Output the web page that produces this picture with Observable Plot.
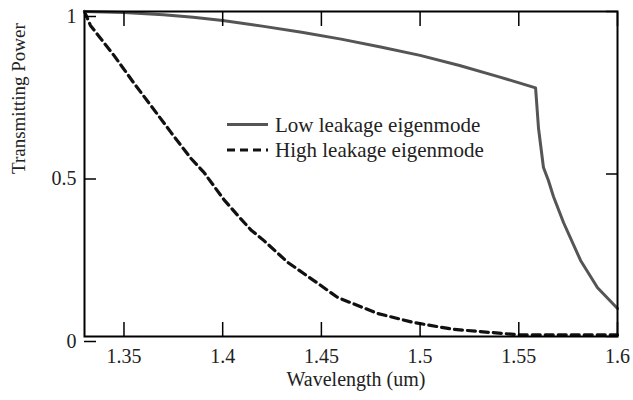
<!DOCTYPE html>
<html>
<head>
<meta charset="utf-8">
<script src="https://cdn.jsdelivr.net/npm/d3@7"></script>
<script src="https://cdn.jsdelivr.net/npm/@observablehq/plot@0.6"></script>
<style>
  html, body { margin: 0; padding: 0; background: #fff; }
  #wrap { position: relative; width: 633px; height: 400px; font-family: "Liberation Serif", "Times New Roman", serif; }
  #wrap svg text { font-family: "Liberation Serif", "Times New Roman", serif; }
  #legend { position: absolute; left: 0; top: 0; pointer-events: none; }
</style>
</head>
<body>
<div id="wrap"></div>
<script>
// Low leakage eigenmode (solid)
const lowWl = [1.33, 1.35, 1.37, 1.385, 1.40, 1.42, 1.44, 1.46, 1.48, 1.50, 1.52, 1.54, 1.5585, 1.5600, 1.5625, 1.565, 1.5676, 1.5727, 1.5813, 1.5899, 1.60];
const lowP  = [1.000, 0.997, 0.990, 0.982, 0.972, 0.955, 0.936, 0.915, 0.891, 0.865, 0.834, 0.799, 0.765, 0.640, 0.520, 0.480, 0.430, 0.350, 0.234, 0.150, 0.086];
// High leakage eigenmode (dashed)
const highWl = [1.33, 1.333, 1.3449, 1.355, 1.3637, 1.3738, 1.3839, 1.3905, 1.4005, 1.4077, 1.4143, 1.4209, 1.433, 1.4462, 1.4583, 1.4784, 1.4967, 1.517, 1.5423, 1.551, 1.60];
const highP  = [1.000, 0.957, 0.865, 0.780, 0.710, 0.628, 0.548, 0.505, 0.422, 0.372, 0.328, 0.295, 0.228, 0.172, 0.120, 0.071, 0.043, 0.022, 0.009, 0.005, 0.005];

const xTicks = [1.35, 1.4, 1.45, 1.5, 1.55, 1.6];
const xTickLabels = ["1.35", "1.4", "1.45", "1.5", "1.55", "1.6"];
const yTicks = [0, 0.5, 1];
const yTickLabels = ["0", "0.5", "1"];

const seriesNames = ["Low leakage eigenmode", "High leakage eigenmode"];
const seriesColors = ["#555555", "#111111"];
const seriesDash = [null, "8,5"];

const xTitle = "Wavelength (um)";
const yTitle = "Transmitting Power";

const low = lowWl.map((w, i) => ({w, p: lowP[i]}));
const high = highWl.map((w, i) => ({w, p: highP[i]}));

const serif = "Liberation Serif";

const chart = Plot.plot({
  width: 633,
  height: 400,
  marginLeft: 84,
  marginRight: 16,
  marginTop: 11,
  marginBottom: 64,
  style: { fontFamily: serif, background: "#fff", color: "#000", overflow: "visible" },
  x: { domain: [1.33, 1.6] },
  y: { domain: [0, 1] },
  marks: [
    Plot.line(high, { x: "w", y: "p", stroke: seriesColors[1], strokeWidth: 3.2, strokeDasharray: seriesDash[1] }),
    Plot.line(low, { x: "w", y: "p", stroke: seriesColors[0], strokeWidth: 3 }),
    Plot.frame({ stroke: "#000", strokeWidth: 2 }),
    Plot.axisX({ anchor: "bottom", ticks: xTicks, tickSize: -14, tickPadding: 26, strokeWidth: 1.5,
      tickFormat: d => xTickLabels[xTicks.indexOf(d)], label: null, fontSize: 20, fontFamily: serif, fill: "#222" }),
    Plot.axisX({ anchor: "top", ticks: xTicks, tickSize: -14, strokeWidth: 1.5, tickFormat: () => "", label: null }),
    Plot.axisY({ anchor: "left", ticks: yTicks, tickSize: -12, tickPadding: 20, strokeWidth: 1.5, dy: 5,
      tickFormat: d => yTickLabels[yTicks.indexOf(d)], label: null, fontSize: 20, fontFamily: serif, fill: "#222" }),
    Plot.axisY({ anchor: "right", ticks: yTicks, tickSize: -12, strokeWidth: 1.5, tickFormat: () => "", label: null }),
    Plot.text([xTitle], { frameAnchor: "bottom", dy: 49, dx: 5, fontSize: 20, fontFamily: serif, fill: "#222" }),
    Plot.text([yTitle], { frameAnchor: "left", dx: -66, rotate: -90, fontSize: 19, fontFamily: serif, fill: "#222" })
  ]
});

const wrap = document.getElementById("wrap");
wrap.appendChild(chart);

// Legend overlay
const ns = "http://www.w3.org/2000/svg";
const leg = document.createElementNS(ns, "svg");
leg.setAttribute("id", "legend");
leg.setAttribute("width", 633);
leg.setAttribute("height", 400);
const legX0 = 227, legX1 = 268, legTextX = 275;
const legRowY = [124.5, 150];
seriesNames.forEach((name, i) => {
  const ln = document.createElementNS(ns, "line");
  ln.setAttribute("x1", legX0); ln.setAttribute("x2", legX1);
  ln.setAttribute("y1", legRowY[i]); ln.setAttribute("y2", legRowY[i]);
  ln.setAttribute("stroke", seriesColors[i]);
  ln.setAttribute("stroke-width", i === 0 ? 3 : 3.2);
  if (seriesDash[i]) ln.setAttribute("stroke-dasharray", seriesDash[i]);
  leg.appendChild(ln);
  const t = document.createElementNS(ns, "text");
  t.setAttribute("x", legTextX);
  t.setAttribute("y", legRowY[i] + 7);
  t.setAttribute("font-size", 21);
  t.setAttribute("fill", "#222");
  t.textContent = name;
  leg.appendChild(t);
});
wrap.appendChild(leg);
</script>
</body>
</html>
